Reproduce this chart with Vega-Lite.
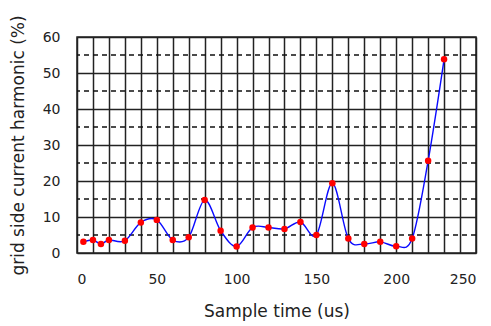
{
  "$schema": "https://vega.github.io/schema/vega-lite/v6.json",
  "width": 399,
  "height": 216,
  "autosize": {"type": "none"},
  "padding": {"left": 77, "top": 37, "right": 15, "bottom": 73},
  "background": "white",
  "config": {
    "view": {"stroke": "#222", "strokeWidth": 1.5},
    "font": "DejaVu Sans",
    "axis": {
      "grid": true, "gridColor": "#222", "gridOpacity": 1, "gridWidth": 1.5,
      "domain": false, "ticks": false, "labelFontSize": 14, "labelColor": "#222",
      "titleFontSize": 17, "titleFontWeight": "normal", "titleColor": "#222",
      "labelOverlap": false
    },
    "axisX": {"labelPadding": 19, "titlePadding": 17},
    "axisY": {"labelPadding": 17, "titlePadding": 15}
  },
  "datasets": {
    "pts": [
      {"t": 4, "h": 3.1},
      {"t": 10, "h": 3.6},
      {"t": 15, "h": 2.5},
      {"t": 20, "h": 3.6},
      {"t": 30, "h": 3.4},
      {"t": 40, "h": 8.5},
      {"t": 50, "h": 9.2},
      {"t": 60, "h": 3.6},
      {"t": 70, "h": 4.4},
      {"t": 80, "h": 14.7},
      {"t": 90, "h": 6.2},
      {"t": 100, "h": 1.8},
      {"t": 110, "h": 7.1},
      {"t": 120, "h": 7.1},
      {"t": 130, "h": 6.7},
      {"t": 140, "h": 8.6},
      {"t": 150, "h": 5.0},
      {"t": 160, "h": 19.4},
      {"t": 170, "h": 4.0},
      {"t": 180, "h": 2.5},
      {"t": 190, "h": 3.1},
      {"t": 200, "h": 1.9},
      {"t": 210, "h": 4.0},
      {"t": 220, "h": 25.6},
      {"t": 230, "h": 53.8}
    ],
    "dash": [
      {"h": 5}, {"h": 15}, {"h": 25}, {"h": 35}, {"h": 45}, {"h": 55}
    ]
  },
  "layer": [
    {
      "data": {"name": "dash"},
      "mark": {"type": "rule", "stroke": "#111", "strokeWidth": 1.5, "strokeDash": [5, 4]},
      "encoding": {
        "y": {
          "field": "h", "type": "quantitative",
          "scale": {"domain": [0, 60], "nice": false},
          "axis": {"values": [0, 10, 20, 30, 40, 50, 60], "title": "grid side current harmonic (%)"}
        }
      }
    },
    {
      "data": {"name": "pts"},
      "mark": {"type": "line", "color": "#0a0aff", "strokeWidth": 1.4, "interpolate": "cardinal"},
      "encoding": {
        "x": {
          "field": "t", "type": "quantitative",
          "scale": {"domain": [0, 250], "nice": false},
          "axis": {
            "values": [0,10,20,30,40,50,60,70,80,90,100,110,120,130,140,150,160,170,180,190,200,210,220,230,240,250],
            "labelExpr": "datum.value % 50 == 0 ? datum.label : ''",
            "title": "Sample time (us)"
          }
        },
        "y": {
          "field": "h", "type": "quantitative",
          "axis": {"values": [0, 10, 20, 30, 40, 50, 60], "title": "grid side current harmonic (%)"}
        }
      }
    },
    {
      "data": {"name": "pts"},
      "mark": {"type": "point", "shape": "circle", "filled": true, "color": "#ff0000", "size": 42, "opacity": 1},
      "encoding": {
        "x": {
          "field": "t", "type": "quantitative",
          "axis": {
            "values": [0,10,20,30,40,50,60,70,80,90,100,110,120,130,140,150,160,170,180,190,200,210,220,230,240,250],
            "labelExpr": "datum.value % 50 == 0 ? datum.label : ''",
            "title": "Sample time (us)"
          }
        },
        "y": {
          "field": "h", "type": "quantitative",
          "axis": {"values": [0, 10, 20, 30, 40, 50, 60], "title": "grid side current harmonic (%)"}
        }
      }
    }
  ]
}
